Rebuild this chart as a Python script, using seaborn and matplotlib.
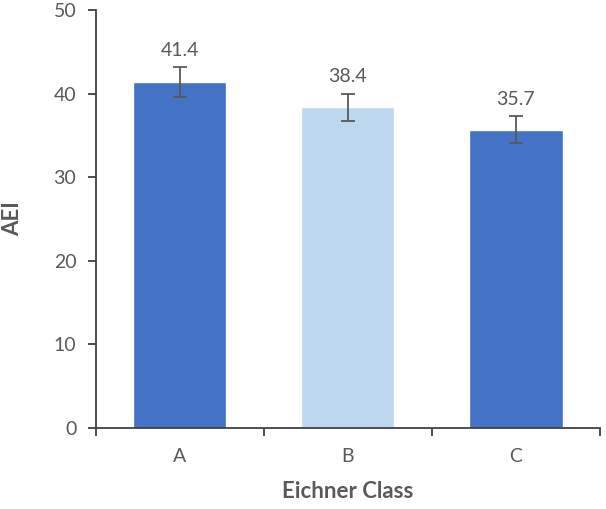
import pandas as pd
import seaborn as sns
import matplotlib.pyplot as plt
from matplotlib.ticker import FixedLocator

classes = ['A', 'B', 'C']
aei = [41.4, 38.4, 35.7]
err = [1.8, 1.6, 1.65]
colors = ['#4472C4', '#BDD7EE', '#4472C4']

sns.set_style('white')
plt.rcParams['font.family'] = ['Lato', 'DejaVu Sans']

df = pd.DataFrame({'cls': classes, 'aei': aei})

fig = plt.figure(figsize=(6.06, 5.09), dpi=100)
ax = fig.add_axes([0.158, 0.159, 0.832, 0.821])

sns.barplot(data=df, x='cls', y='aei', hue='cls', palette=colors,
            saturation=1, width=0.555, errorbar=None, legend=False, ax=ax)

xs = [p.get_x() + p.get_width() / 2 for p in ax.patches]
ax.errorbar(xs, aei, yerr=err, fmt='none', ecolor='#595959',
            elinewidth=1.3, capsize=5, capthick=1.3)

for x, v, e in zip(xs, aei, err):
    ax.text(x, v + e + 1.0, f'{v:.1f}', ha='center', va='bottom',
            fontsize=14, color='#595959')

ax.set_xlim(-0.5, 2.5)
ax.set_ylim(0, 50)
ax.set_yticks(range(0, 51, 10))
ax.xaxis.set_minor_locator(FixedLocator([-0.5, 0.5, 1.5, 2.5]))
ax.tick_params(axis='x', which='major', length=0, pad=14,
               labelsize=14, labelcolor='#595959')
ax.tick_params(axis='x', which='minor', length=6, width=1.3,
               color='#404040', direction='out', bottom=True)
ax.tick_params(axis='y', length=6, width=1.3, color='#404040',
               direction='out', left=True, labelsize=14,
               labelcolor='#595959', pad=8)

for s in ['top', 'right']:
    ax.spines[s].set_visible(False)
for s in ['left', 'bottom']:
    ax.spines[s].set_color('#404040')
    ax.spines[s].set_linewidth(1.3)

ax.set_xlabel('Eichner Class', fontsize=16, fontweight='bold',
              color='#595959', labelpad=12)
ax.set_ylabel('AEI', fontsize=16, fontweight='bold', color='#595959',
              labelpad=22)

fig.savefig('out.png', dpi=100)
